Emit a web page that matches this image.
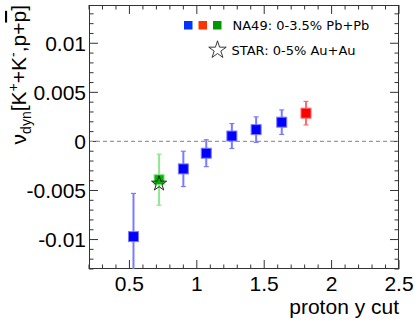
<!DOCTYPE html>
<html>
	<head>
		<meta charset="utf-8" />
		<script src="https://cdn.jsdelivr.net/npm/d3@7"></script>
		<style>
			body {
				margin: 0;
				background: #fff;
			}

			svg {
				display: block;
				font-family: 'Liberation Sans', Arial, sans-serif;
			}

			.legend text {
				font-family: 'DejaVu Sans', sans-serif;
				font-size: 13px;
			}
		</style>
	</head>

	<body>
		<svg id="chart"></svg>

		<script>
			// NA49 points (blue), plus the single red and green ones
			const blueCut = [0.53, 0.9, 1.07, 1.26, 1.44, 1.63];
			const blueV = [-0.0097, -0.0028, -0.0012, 0.00055, 0.0012, 0.00196];
			const blueErr = [0.0044, 0.0018, 0.00137, 0.00127, 0.0013, 0.00125];

			const redCut = [1.81];
			const redV = [0.00288];
			const redErr = [0.0012];

			const greenCut = [0.72];
			const greenV = [-0.0039];
			const greenErr = [0.0026];

			// STAR point
			const starCut = [0.72];
			const starV = [-0.0043];

			const xTicks = [0.5, 1, 1.5, 2, 2.5];
			const xTickLabels = ['0.5', '1', '1.5', '2', '2.5'];
			const yTicks = [-0.01, -0.005, 0, 0.005, 0.01];
			const yTickLabels = ['-0.01', '-0.005', '0', '0.005', '0.01'];

			const legendLabels = ['NA49: 0-3.5% Pb+Pb', 'STAR: 0-5% Au+Au'];

			const width = 415;
			const height = 324;
			const margin = { top: 5, right: 16, bottom: 55, left: 89 };

			const x = d3
				.scaleLinear()
				.domain([0.2, 2.5])
				.range([margin.left, width - margin.right]);

			const y = d3
				.scaleLinear()
				.domain([-0.013, 0.0139])
				.range([height - margin.bottom, margin.top]);

			const svg = d3
				.select('#chart')
				.attr('width', width)
				.attr('height', height);

			svg.append('defs')
				.append('clipPath')
				.attr('id', 'plot-clip')
				.append('rect')
				.attr('x', margin.left)
				.attr('y', margin.top)
				.attr('width', width - margin.left - margin.right)
				.attr('height', height - margin.top - margin.bottom);

			// ticks pointing into the frame, on all four sides
			const xMinor = d3.range(0.2, 2.5001, 0.1);
			const yMinor = d3.range(-0.013, 0.0139, 0.001);
			const tickColor = '#333';

			function xTicksAt(yPos, dir) {
				svg.append('g')
					.selectAll('line')
					.data(xMinor)
					.join('line')
					.attr('x1', (d) => x(d))
					.attr('x2', (d) => x(d))
					.attr('y1', yPos)
					.attr('y2', (d) => {
						const major = xTicks.some((t) => Math.abs(t - d) < 1e-6);
						return yPos + dir * (major ? 9 : 4.5);
					})
					.attr('stroke', tickColor)
					.attr('stroke-width', 1);
			}

			function yTicksAt(xPos, dir) {
				svg.append('g')
					.selectAll('line')
					.data(yMinor)
					.join('line')
					.attr('y1', (d) => y(d))
					.attr('y2', (d) => y(d))
					.attr('x1', xPos)
					.attr('x2', (d) => {
						const major = yTicks.some((t) => Math.abs(t - d) < 1e-6);
						return xPos + dir * (major ? 9 : 4.5);
					})
					.attr('stroke', tickColor)
					.attr('stroke-width', 1);
			}

			xTicksAt(y.range()[0], -1);
			xTicksAt(y.range()[1], 1);
			yTicksAt(x.range()[0], 1);
			yTicksAt(x.range()[1], -1);

			// zero line
			svg.append('line')
				.attr('x1', x.range()[0])
				.attr('x2', x.range()[1])
				.attr('y1', y(0))
				.attr('y2', y(0))
				.attr('stroke', '#9a9a9a')
				.attr('stroke-width', 1.3)
				.attr('stroke-dasharray', '4,3');

			// frame
			svg.append('rect')
				.attr('x', margin.left + 0.5)
				.attr('y', margin.top + 0.5)
				.attr('width', width - margin.left - margin.right - 1)
				.attr('height', height - margin.top - margin.bottom - 1)
				.attr('fill', 'none')
				.attr('stroke', '#333')
				.attr('stroke-width', 1);

			// tick labels
			svg.append('g')
				.selectAll('text')
				.data(xTicks)
				.join('text')
				.attr('x', (d) => x(d))
				.attr('y', y.range()[0] + 22)
				.attr('text-anchor', 'middle')
				.attr('font-size', 21)
				.text((d, i) => xTickLabels[i]);

			svg.append('g')
				.selectAll('text')
				.data(yTicks)
				.join('text')
				.attr('x', x.range()[0] - 3)
				.attr('y', (d) => y(d) + 7.5)
				.attr('text-anchor', 'end')
				.attr('font-size', 21)
				.text((d, i) => yTickLabels[i]);

			// axis titles
			svg.append('text')
				.attr('x', x.range()[1])
				.attr('y', 314)
				.attr('text-anchor', 'end')
				.attr('font-size', 21)
				.text('proton y cut');

			const yTitle = svg
				.append('text')
				.attr('transform', `translate(26,${margin.top}) rotate(-90)`)
				.attr('text-anchor', 'end')
				.attr('font-size', 21);
			yTitle.append('tspan').text('ν');
			yTitle.append('tspan').attr('font-size', 14).attr('dy', 5).text('dyn');
			yTitle.append('tspan').attr('dy', -5).text('[K');
			yTitle.append('tspan').attr('font-size', 14).attr('dy', -8).text('+');
			yTitle.append('tspan').attr('dy', 8).text('+K');
			yTitle.append('tspan').attr('font-size', 14).attr('dy', -8).text('-');
			yTitle.append('tspan').attr('dy', 8).text(',p+');
			yTitle.append('tspan').style('text-decoration', 'overline').text('p');
			yTitle.append('tspan').text(']');

			// points with error bars
			const plot = svg.append('g').attr('clip-path', 'url(#plot-clip)');

			function drawSeries(cuts, vals, errs, color, barColor) {
				const pts = cuts.map((c, i) => ({ c, v: vals[i], e: errs[i] }));
				const g = plot.append('g');
				g.selectAll('.bar')
					.data(pts)
					.join('line')
					.attr('x1', (d) => x(d.c))
					.attr('x2', (d) => x(d.c))
					.attr('y1', (d) => y(d.v - d.e))
					.attr('y2', (d) => y(d.v + d.e))
					.attr('stroke', barColor)
					.attr('stroke-width', 2);
				for (const s of [-1, 1]) {
					g.selectAll(null)
						.data(pts)
						.join('line')
						.attr('x1', (d) => x(d.c) - 2.5)
						.attr('x2', (d) => x(d.c) + 2.5)
						.attr('y1', (d) => y(d.v + s * d.e))
						.attr('y2', (d) => y(d.v + s * d.e))
						.attr('stroke', barColor)
						.attr('stroke-width', 1.2);
				}
				g.selectAll('rect')
					.data(pts)
					.join('rect')
					.attr('x', (d) => x(d.c) - 5)
					.attr('y', (d) => y(d.v) - 5)
					.attr('width', 10)
					.attr('height', 10)
					.attr('fill', color)
					.attr('stroke', barColor)
					.attr('stroke-width', 1);
			}

			drawSeries(blueCut, blueV, blueErr, '#0000ff', '#7b7bff');
			drawSeries(greenCut, greenV, greenErr, '#00b400', '#8ee88e');
			drawSeries(redCut, redV, redErr, '#ff0000', '#ff6a6a');

			const star = d3.symbol().type(d3.symbolStar).size(70);
			plot.selectAll('.star')
				.data(starCut.map((c, i) => ({ c, v: starV[i] })))
				.join('path')
				.attr('transform', (d) => `translate(${x(d.c)},${y(d.v)})`)
				.attr('d', star)
				.attr('fill', 'none')
				.attr('stroke', '#222')
				.attr('stroke-width', 1);

			// legend
			const legend = svg.append('g').attr('class', 'legend');
			['#0033ff', '#ff3300', '#009900'].forEach((c, i) => {
				legend.append('rect')
					.attr('x', 184 + i * 14.5)
					.attr('y', 21)
					.attr('width', 8.5)
					.attr('height', 8.5)
					.attr('fill', c);
			});
			legend.append('text').attr('x', 232.5).attr('y', 30).text(legendLabels[0]);

			legend.append('path')
				.attr('transform', 'translate(217.5,50)')
				.attr('d', d3.symbol().type(d3.symbolStar).size(95)())
				.attr('fill', 'none')
				.attr('stroke', '#222')
				.attr('stroke-width', 0.9);
			legend.append('text').attr('x', 231.5).attr('y', 55).text(legendLabels[1]);
		</script>
	</body>
</html>
